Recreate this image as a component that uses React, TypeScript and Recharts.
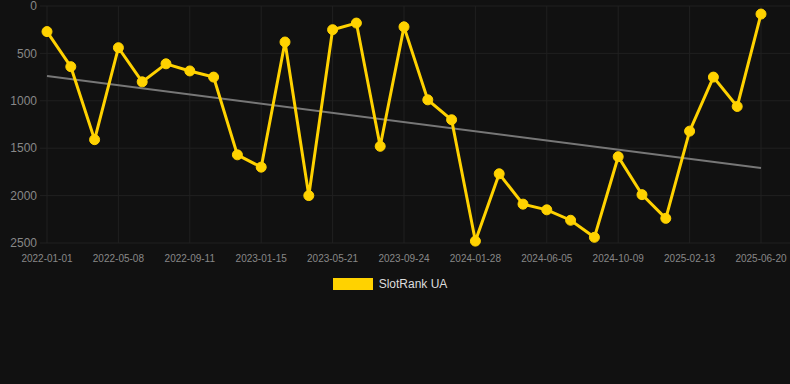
import { CartesianGrid, Legend, Line, LineChart, ReferenceLine, XAxis, YAxis } from 'recharts';

const dates = [
  '2022-01-01', '2022-02-12', '2022-03-26', '2022-05-08', '2022-06-19', '2022-07-31',
  '2022-09-11', '2022-10-23', '2022-12-04', '2023-01-15', '2023-02-26', '2023-04-09',
  '2023-05-21', '2023-07-02', '2023-08-13', '2023-09-24', '2023-11-05', '2023-12-17',
  '2024-01-28', '2024-03-10', '2024-04-23', '2024-06-05', '2024-07-17', '2024-08-28',
  '2024-10-09', '2024-11-20', '2025-01-01', '2025-02-13', '2025-03-27', '2025-05-08',
  '2025-06-20',
];

const rank = [
  270, 640, 1410, 440, 800, 610, 685, 750, 1570, 1700, 380, 2000, 250, 180, 1480, 220,
  990, 1200, 2480, 1770, 2090, 2150, 2260, 2440, 1590, 1990, 2240, 1320, 750, 1060, 85,
];

// trend line end points
const trendStart = 738;
const trendEnd = 1709;

const yTicks = [0, 500, 1000, 1500, 2000, 2500];
const xTicks = dates.filter((_, i) => i % 3 === 0);

const GOLD = '#ffd200';
const GRID = '#202020';
const FONT = '"Liberation Sans", Arial, sans-serif';

const data = dates.map((d, i) => ({
  date: d,
  rank: rank[i],
  trend: i === 0 ? trendStart : i === dates.length - 1 ? trendEnd : null,
}));

const LegendContent = () => (
  <div style={{ display: 'flex', justifyContent: 'center', alignItems: 'center', fontFamily: FONT }}>
    <span style={{ width: 40, height: 12, background: GOLD, display: 'inline-block', marginRight: 6 }} />
    <span style={{ color: '#dddddd', fontSize: 12 }}>SlotRank UA</span>
  </div>
);

const App = () => (
  <div style={{ width: 790, height: 384, background: '#111111' }}>
    <style>{'body{margin:0;background:#111111}'}</style>
    <LineChart width={790} height={384} data={data} margin={{ top: 6, right: 0, left: 0, bottom: 111 }}>
      <CartesianGrid stroke={GRID} strokeWidth={1} vertical={false} />
      {xTicks.map(d => (
        <ReferenceLine key={d} x={d} stroke={GRID} strokeWidth={1} />
      ))}
      <XAxis
        dataKey="date"
        ticks={xTicks}
        interval={0}
        padding={{ left: 7, right: 29 }}
        axisLine={false}
        tickLine={false}
        tickSize={0}
        tickMargin={12}
        height={30}
        tick={{ fontSize: 10, fill: '#888888', fontFamily: FONT }}
      />
      <YAxis
        reversed
        domain={[0, 2500]}
        ticks={yTicks}
        interval={0}
        width={40}
        axisLine={false}
        tickLine={false}
        tickSize={0}
        tickMargin={3}
        tick={{ fontSize: 12, fill: '#888888', fontFamily: FONT }}
      />
      <Legend
        layout="horizontal"
        verticalAlign="middle"
        content={LegendContent}
        wrapperStyle={{ top: 277, left: -5, width: 790 }}
      />
      <Line
        dataKey="trend"
        connectNulls
        stroke="#777777"
        strokeWidth={2}
        dot={false}
        activeDot={false}
        legendType="none"
        isAnimationActive={false}
      />
      <Line
        dataKey="rank"
        name="SlotRank UA"
        stroke={GOLD}
        strokeWidth={3}
        dot={{ r: 5, fill: GOLD, stroke: GOLD, strokeWidth: 1 }}
        activeDot={false}
        isAnimationActive={false}
      />
    </LineChart>
  </div>
);

export default App;
